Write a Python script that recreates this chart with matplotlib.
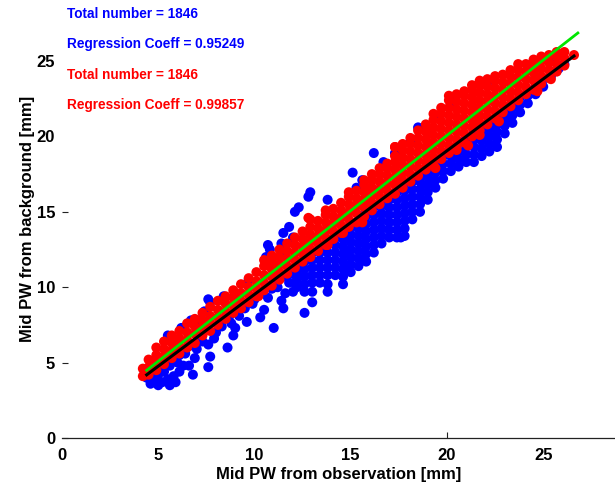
import matplotlib
matplotlib.use("Agg")
import matplotlib.pyplot as plt
import numpy as np

plt.rcParams['font.family'] = ['Liberation Sans', 'DejaVu Sans']
plt.rcParams['font.weight'] = 'bold'

# red cloud, read column by column (x, then the y values in that column)
red_col_x = [4.2, 4.5, 4.9, 5.3, 5.7, 6.1, 6.5, 6.9, 7.3, 7.7, 8.1, 8.5, 8.9, 9.3, 9.7,
             10.1, 10.5, 10.9, 11.3, 11.7, 12.1, 12.5, 12.9, 13.3, 13.7, 14.1, 14.5, 14.9,
             15.3, 15.7, 16.1, 16.5, 16.9, 17.3, 17.7, 18.1, 18.5, 18.9, 19.3, 19.7, 20.1,
             20.5, 20.9, 21.3, 21.7, 22.1, 22.5, 22.9, 23.3, 23.7, 24.1, 24.5, 24.9, 25.3,
             25.7, 26.1, 26.6]
red_col_y = [
    [4.1, 4.6], [4.2, 4.7, 5.2], [4.5, 5.0, 5.5, 6.0], [4.9, 5.4, 5.9, 6.4],
    [5.3, 5.8, 6.3, 6.8], [5.6, 6.1, 6.6, 7.1], [6.0, 6.5, 7.0, 7.6], [6.3, 6.9, 7.4, 7.9],
    [6.8, 7.3, 7.8, 8.3], [7.1, 7.6, 8.1, 8.7], [7.5, 8.0, 8.5, 9.1], [7.9, 8.4, 8.9, 9.4],
    [8.3, 8.8, 9.3, 9.8], [8.6, 9.1, 9.6, 10.2], [9.0, 9.5, 10.0, 10.6], [9.4, 9.9, 10.4, 11.0],
    [9.8, 10.3, 10.8, 11.4, 11.8], [10.1, 10.7, 11.2, 11.7, 12.1], [10.5, 11.0, 11.5, 12.0, 12.5],
    [10.9, 11.4, 11.9, 12.4, 12.9], [11.3, 11.8, 12.3, 12.8, 13.3], [11.7, 12.2, 12.7, 13.2, 13.7],
    [12.0, 12.5, 13.0, 13.5, 14.0, 14.5], [12.4, 12.9, 13.4, 13.9, 14.4],
    [12.8, 13.3, 13.8, 14.3, 14.8, 15.1], [13.2, 13.7, 14.2, 14.7, 15.2],
    [13.6, 14.1, 14.6, 15.1, 15.6], [14.0, 14.5, 15.0, 15.5, 16.0, 16.3],
    [14.3, 14.9, 15.4, 15.9, 16.4], [14.7, 15.3, 15.8, 16.3, 16.8, 17.1],
    [15.1, 15.6, 16.1, 16.6, 17.1, 17.5], [15.5, 16.0, 16.5, 17.0, 17.5, 17.9],
    [15.9, 16.4, 16.9, 17.4, 17.9, 18.2], [16.2, 16.8, 17.3, 17.8, 18.3, 18.7, 19.3],
    [16.6, 17.1, 17.6, 18.1, 18.6, 19.1, 19.5], [17.0, 17.5, 18.0, 18.5, 19.0, 19.5, 19.9],
    [17.4, 17.9, 18.4, 18.9, 19.4, 19.9, 20.4], [17.8, 18.3, 18.8, 19.3, 19.8, 20.3, 20.8],
    [18.1, 18.6, 19.1, 19.6, 20.1, 20.6, 21.1, 21.5], [18.5, 19.0, 19.5, 20.0, 20.5, 21.0, 21.5, 21.9],
    [18.9, 19.4, 19.9, 20.4, 20.9, 21.4, 21.9, 22.4, 22.7], [19.3, 19.8, 20.3, 20.8, 21.3, 21.8, 22.3, 22.8],
    [19.6, 20.2, 20.7, 21.2, 21.7, 22.2, 22.7, 23.0], [20.0, 20.6, 21.1, 21.6, 22.1, 22.6, 23.1, 23.4],
    [20.4, 20.9, 21.4, 21.9, 22.4, 22.9, 23.4, 23.7], [20.8, 21.3, 21.8, 22.3, 22.8, 23.3, 23.8],
    [21.2, 21.7, 22.2, 22.7, 23.2, 23.7, 24.0], [21.6, 22.1, 22.6, 23.1, 23.6, 24.1],
    [22.0, 22.5, 23.0, 23.5, 24.0, 24.4], [22.4, 22.9, 23.4, 23.9, 24.4, 24.8],
    [22.8, 23.3, 23.8, 24.3, 24.8], [23.1, 23.7, 24.2, 24.7, 25.1], [23.5, 24.0, 24.5, 25.0, 25.3],
    [23.9, 24.4, 24.9, 25.4], [24.3, 24.8, 25.3, 25.6], [24.7, 25.2, 25.6], [25.4],
]
# red points that stray below the black line
red_extra = [(10.2, 9.4), (13.8, 12.8), (14.6, 13.6), (15.6, 14.3), (18.9, 17.9), (19.4, 17.9),
             (20.5, 19.1), (21.1, 19.4), (21.7, 20.1), (22.7, 21.0), (24.7, 23.0), (25.4, 23.8),
             (17.3, 19.3), (12.8, 14.6)]

# blue cloud, dense part below the line
blue_col_x = [12.2, 12.6, 13.0, 13.4, 13.8, 14.2, 14.6, 15.0, 15.4, 15.8, 16.2, 16.6, 17.0,
              17.4, 17.8, 18.2, 18.6, 19.0, 19.4, 19.8, 20.2, 20.6, 21.0, 21.4, 21.8, 22.2,
              22.6, 23.0, 23.4, 23.8, 24.2, 24.6, 25.0, 25.4, 25.8, 26.1]
blue_col_y = [
    [10.0, 10.5, 11.0, 11.5], [8.3, 9.7, 10.2, 10.7, 11.2, 11.7],
    [9.0, 9.7, 10.3, 10.8, 11.3, 11.8, 12.3], [10.3, 10.8, 11.3, 11.8, 12.3, 12.7],
    [9.7, 10.2, 10.8, 11.3, 11.8, 12.3, 12.8, 13.1], [10.8, 11.3, 11.8, 12.3, 12.8, 13.3],
    [10.2, 10.7, 11.2, 11.7, 12.2, 12.7, 13.2, 13.7], [11.0, 11.5, 12.0, 12.5, 13.0, 13.5, 14.0],
    [11.4, 11.9, 12.4, 12.9, 13.4, 13.9, 14.4], [11.7, 12.2, 12.7, 13.2, 13.7, 14.2, 14.7, 15.0],
    [12.3, 12.8, 13.3, 13.8, 14.3, 14.8, 15.3], [12.9, 13.4, 13.9, 14.4, 14.9, 15.4, 15.8],
    [13.3, 13.8, 14.3, 14.8, 15.3, 15.8, 16.2], [13.3, 13.8, 14.3, 14.8, 15.3, 15.8, 16.3, 16.6],
    [13.4, 13.9, 14.4, 14.9, 15.4, 15.9, 16.4, 16.9], [14.5, 15.0, 15.5, 16.0, 16.5, 17.0, 17.3],
    [15.0, 15.5, 16.0, 16.5, 17.0, 17.5, 17.8], [15.8, 16.3, 16.8, 17.3, 17.8, 18.1],
    [16.6, 17.1, 17.6, 18.1, 18.5], [17.2, 17.7, 18.2, 18.7, 18.9], [17.7, 18.2, 18.7, 19.2],
    [18.0, 18.5, 19.0, 19.6], [18.3, 18.8, 19.3, 19.8, 20.0], [18.3, 18.8, 19.3, 19.8, 20.3],
    [18.7, 19.2, 19.7, 20.2, 20.7], [19.0, 19.5, 20.0, 20.5, 21.0], [19.3, 19.8, 20.3, 20.8, 21.3],
    [20.2, 20.7, 21.2, 21.7], [20.9, 21.4, 21.9, 22.2], [21.6, 22.1, 22.6], [22.2, 22.7, 23.0],
    [22.8, 23.3], [23.3, 23.8], [24.0, 24.3], [24.5], [24.8],
]
# blue scattered points at the low end and outliers above the red band
blue_extra = [
    (4.3, 4.4), (4.4, 4.0), (4.6, 3.6), (4.7, 4.5), (4.8, 3.9), (5.0, 3.5), (5.0, 4.2), (5.1, 4.8),
    (5.2, 3.7), (5.3, 4.4), (5.5, 3.9), (5.6, 3.5), (5.6, 4.8), (5.8, 4.1), (5.9, 3.7), (6.0, 5.0),
    (6.1, 4.4), (6.3, 4.8), (6.4, 5.6), (6.6, 4.8), (6.8, 4.2), (6.9, 5.3), (7.0, 5.9), (7.3, 6.4),
    (7.6, 4.7), (7.6, 6.2), (7.7, 5.4), (7.9, 6.6), (8.0, 7.0), (8.3, 7.4), (8.6, 6.0), (8.8, 7.6),
    (8.9, 6.8), (9.0, 7.3), (9.2, 8.1), (9.5, 8.6), (9.6, 7.7), (9.9, 8.9), (10.0, 9.2), (10.3, 8.0),
    (10.5, 8.5), (10.7, 9.3), (10.9, 9.9), (11.0, 7.3), (11.2, 10.0), (11.4, 9.1), (11.5, 8.6),
    (11.6, 9.6), (11.8, 10.3), (12.0, 9.7), (11.9, 10.9), (10.4, 9.6), (9.4, 8.8), (8.5, 8.0),
    (5.8, 5.2), (6.1, 5.5), (6.6, 6.1), (7.2, 6.7), (8.2, 7.6), (8.7, 8.1), (9.1, 8.5), (9.8, 9.2),
    (10.2, 9.5), (10.8, 10.1), (11.1, 10.4), (11.5, 10.7), (11.9, 11.2),
    (15.7, 11.8), (17.6, 13.3),
    (5.5, 6.8), (6.2, 7.3), (6.7, 7.8), (7.1, 7.8), (7.4, 8.4), (7.7, 9.0), (7.6, 9.2), (8.4, 9.4),
    (9.7, 10.5), (10.6, 12.0), (10.7, 12.8), (10.8, 12.5), (11.4, 12.2), (11.4, 12.9), (11.5, 13.6),
    (11.8, 14.0), (12.0, 13.3), (12.1, 15.0), (12.3, 15.3), (12.8, 16.0), (12.9, 16.3), (13.8, 15.8),
    (15.1, 17.6), (15.3, 16.6), (15.6, 17.1), (16.2, 18.9), (16.7, 18.3), (17.3, 18.9), (18.1, 19.6),
    (18.5, 20.6), (19.0, 20.3), (19.6, 21.3), (20.4, 22.3), (22.1, 23.6), (24.5, 24.6), (25.6, 25.3),
]

# fitted lines
blue_fit = (0.95249, 0.0)
red_fit = (0.99857, 0.1)
blue_fit_x = [4.4, 26.6]
red_fit_x = [4.4, 26.8]

labels = [("Total number = 1846", "blue"), ("Regression Coeff = 0.95249", "blue"),
          ("Total number = 1846", "red"), ("Regression Coeff = 0.99857", "red")]
label_y = [28.1, 26.1, 24.1, 22.1]


def expand(col_x, col_y, extra):
    xs, ys = [], []
    for x, col in zip(col_x, col_y):
        xs += [x] * len(col)
        ys += col
    for x, y in extra:
        xs.append(x)
        ys.append(y)
    return xs, ys


bx, by = expand(blue_col_x, blue_col_y, blue_extra)
rx, ry = expand(red_col_x, red_col_y, red_extra)

fig = plt.figure(figsize=(6.15, 4.86), dpi=100)
ax = fig.add_axes([62 / 615, 48 / 486, 1 - 62 / 615, 438 / 486])

ax.scatter(bx, by, s=52, color=(0, 0, 1), edgecolors='none', zorder=2)
ax.scatter(rx, ry, s=52, color=(1, 0, 0), edgecolors='none', zorder=3)
ax.plot(blue_fit_x, np.polyval(blue_fit, blue_fit_x), color='black', lw=2.2, zorder=4)
ax.plot(red_fit_x, np.polyval(red_fit, red_fit_x), color='#00e600', lw=2.0, zorder=5)

for (txt, c), y in zip(labels, label_y):
    ax.text(0.25, y, txt, color=c, fontsize=9.8, fontweight='bold', va='center', ha='left')

ax.set_xlim(0, 28.73)
ax.set_ylim(0, 29.05)
ax.set_xticks([0, 5, 10, 15, 20, 25])
ax.set_yticks([0, 5, 10, 15, 20, 25])
for s in ['top', 'right', 'left']:
    ax.spines[s].set_visible(False)
ax.spines['bottom'].set_color('#222222')
ax.spines['bottom'].set_linewidth(0.9)
ax.tick_params(direction='in', length=4, width=0.8, labelsize=12, color='#222222')
ax.tick_params(axis='x', pad=7)
ax.tick_params(axis='y', pad=5)
for i, t in enumerate(ax.xaxis.get_major_ticks()):
    if i != 4:
        t.tick1line.set_visible(False)
for i, t in enumerate(ax.yaxis.get_major_ticks()):
    if i >= 4:
        t.tick1line.set_visible(False)

ax.set_xlabel('Mid PW from observation [mm]', fontsize=12, fontweight='bold', labelpad=3)
ax.set_ylabel('Mid PW from background [mm]', fontsize=12, fontweight='bold', labelpad=1)

fig.savefig('out.png', dpi=100)
